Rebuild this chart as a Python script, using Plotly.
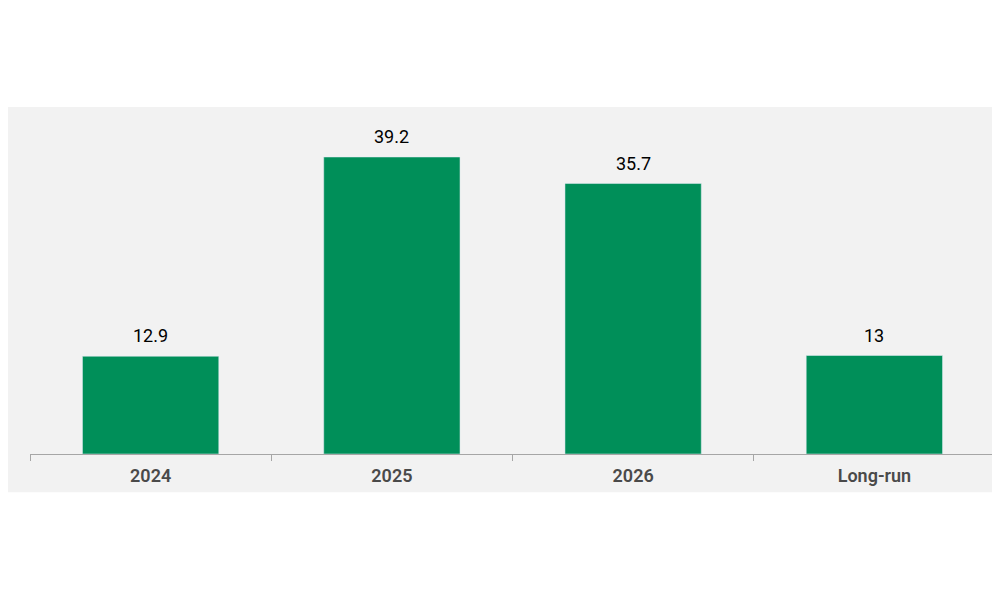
import plotly.graph_objects as go

# values
categories = ["2024", "2025", "2026", "Long-run"]
values = [12.9, 39.2, 35.7, 13]
labels = ["12.9", "39.2", "35.7", "13"]

green = "#008f59"

fig = go.Figure(go.Bar(x=categories, y=values, marker_color=green, width=0.565,
                       hoverinfo="x+y"))

# value labels sitting above each bar (category axis -> annotations take the index)
for i, (v, t) in enumerate(zip(values, labels)):
    fig.add_annotation(x=i, y=v, text=t, showarrow=False, yanchor="bottom", yshift=8,
                       font=dict(family="Roboto", size=18, color="#000000"))

# light grey band behind the chart, running the full width of the page
fig.add_shape(type="rect", xref="paper", yref="paper", x0=-0.04, x1=1.02,
              y0=-0.11, y1=1.0, fillcolor="#f2f2f2", line_width=0, layer="below")

# page has an 8px body margin, so margins are shifted by that
fig.update_layout(
    width=1000, height=600,
    margin=dict(l=22, r=13, t=99, b=154),
    paper_bgcolor="white", plot_bgcolor="rgba(0,0,0,0)",
    showlegend=False,
)
fig.update_xaxes(type="category", range=[-0.5, len(categories) - 0.5],
                 showline=True, linecolor="#a6a6a6", linewidth=1,
                 ticks="outside", tickson="boundaries", ticklen=6, tickcolor="#a6a6a6",
                 ticklabelstandoff=5,
                 tickfont=dict(family="Roboto", size=18, color="#4a4a4a", weight=600),
                 showgrid=False)
fig.update_yaxes(range=[0, 45.8], visible=False, showgrid=False)

fig.write_html("out.html")
